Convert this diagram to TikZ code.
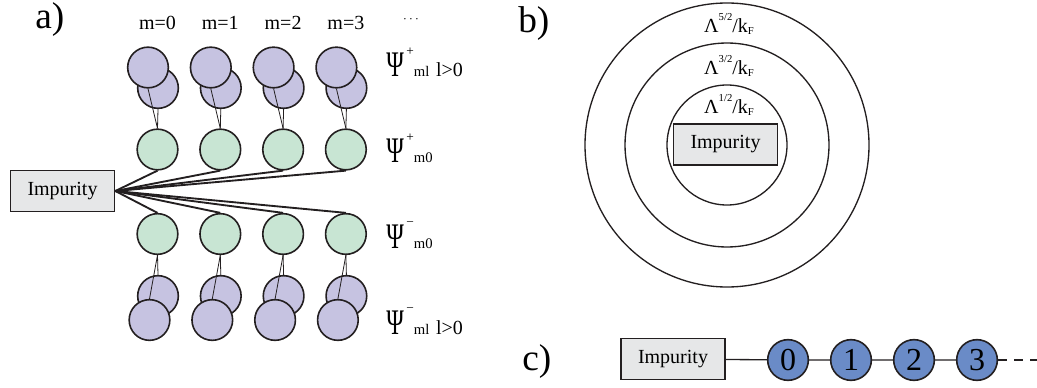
\documentclass[tikz,border=0pt]{standalone}
\usepackage{fontspec}
\setmainfont{Liberation Serif}
\usepackage{graphicx}

\newcommand{\txtsize}{\fontsize{15}{18}\selectfont}
\newcommand{\lblsize}{\fontsize{28}{30}\selectfont}
% Psi label: sign on top, index at the foot
\newcommand{\psilab}[2]{%
  \scalebox{0.66}[1]{\fontsize{27}{27}\selectfont Ψ}\kern2pt%
  \raisebox{16pt}{\fontsize{10}{10}\selectfont #1}%
  {\fontsize{11}{11}\selectfont #2}}
% Lambda label for the shells
\newcommand{\lamlab}[1]{%
  Λ\raisebox{9.5pt}{\fontsize{8}{8}\selectfont #1}/k%
  \raisebox{-1pt}{\fontsize{8}{8}\selectfont F}}

\begin{document}
\begin{tikzpicture}[x=0.75pt,y=-0.75pt]
    % Define colours and styles
    \definecolor{lilac}{RGB}{198,195,225}
    \definecolor{mint}{RGB}{200,229,211}
    \definecolor{boxgray}{RGB}{230,231,232}
    \definecolor{chainblue}{RGB}{106,139,199}
    \definecolor{linecol}{RGB}{35,31,32}
    \tikzset{
        impbox/.style={draw=linecol, line width=1.2pt, fill=boxgray, inner sep=0pt,
            minimum width=78pt, minimum height=31pt, font=\txtsize},
        purplenode/.style={circle, draw=linecol, line width=1.2pt, fill=lilac, inner sep=0pt, minimum size=30.5pt},
        greennode/.style={circle, draw=linecol, line width=1.2pt, fill=mint, inner sep=0pt, minimum size=30.5pt},
        bluenode/.style={circle, draw=linecol, line width=1.2pt, fill=chainblue, inner sep=0pt, minimum size=30.5pt,
            font=\fontsize{24}{24}\selectfont},
        thinedge/.style={draw=linecol, line width=0.6pt},
        hopedge/.style={draw=linecol, line width=1.4pt},
        chainedge/.style={draw=linecol, line width=1pt},
        shell/.style={draw=linecol, line width=1pt},
        txt/.style={font=\txtsize, inner sep=0pt}
    }
    \useasboundingbox (0,0) rectangle (1037,388);

    % ==========================================
    % PANEL a) : STAR OF ORBITALS
    % ==========================================
    \node[font=\lblsize, anchor=base west, inner sep=0pt] (la) at (35,29) {a)};
    \node[impbox] (impa) at (62.5,191) {Impurity};

    % 1. Columns of circles, one per m
    \foreach \i in {0,...,3} {
        \pgfmathsetmacro{\cx}{157.5+62.8*\i}
        \node[purplenode] (ub\i) at (\cx+0.5, 88) {};
        \node[purplenode] (uf\i) at (\cx-9.5, 67.5) {};
        \node[greennode] (gu\i) at (\cx, 149.5) {};
        \node[greennode] (gd\i) at (\cx, 234) {};
        \node[purplenode] (db\i) at (\cx+0.5, 296) {};
        \node[purplenode] (df\i) at (\cx-8, 320) {};
        \node[txt, anchor=base] (m\i) at (\cx, 30) {m=\i};
    }
    \node[inner sep=0pt, font=\fontsize{10}{10}\selectfont] (mdots) at (411,20) {$\cdots$};

    % 2. Links: impurity to m0 shells, m0 to ml shells
    \foreach \i in {0,...,3} {
        \draw[thinedge] (gu\i.north) -- (uf\i.south);
        \draw[thinedge] (gu\i.north) -- (ub\i.south);
        \draw[thinedge] (gd\i.south) -- (df\i.north);
        \draw[thinedge] (gd\i.south) -- (db\i.north);
        \draw[hopedge] (impa.east) -- (gu\i.south);
        \draw[hopedge] (impa.east) -- (gd\i.north);
    }

    % 3. Row labels
    \node[txt, anchor=base west] (psiup) at (386,77) {\psilab{+}{ml}\hspace{5pt}l>0};
    \node[txt, anchor=base west] (psiuz) at (386,163) {\psilab{+}{m0}};
    \node[txt, anchor=base west] (psidz) at (386,248) {\psilab{−}{m0}};
    \node[txt, anchor=base west] (psidn) at (386,334) {\psilab{−}{ml}\hspace{5pt}l>0};

    % ==========================================
    % PANEL b) : SHELLS ROUND THE IMPURITY
    % ==========================================
    \node[font=\lblsize, anchor=base west, inner sep=0pt] (lb) at (518,33) {b)};
    \draw[shell] (727,145) circle[radius=106.5pt];
    \draw[shell] (727,145) circle[radius=76.5pt];
    \draw[shell] (727,145) circle[radius=45pt];
    \node[impbox] (impb) at (725.5,144.5) {Impurity};
    \node[txt, anchor=base] (lam1) at (729,114) {\lamlab{1/2}};
    \node[txt, anchor=base] (lam3) at (729,75) {\lamlab{3/2}};
    \node[txt, anchor=base] (lam5) at (729,33) {\lamlab{5/2}};

    % ==========================================
    % PANEL c) : WILSON CHAIN
    % ==========================================
    \node[font=\lblsize, anchor=base west, inner sep=0pt] (lc) at (522,370) {c)};
    \node[impbox] (impc) at (673,359) {Impurity};
    \foreach \i in {0,...,3} {
        \node[bluenode] (c\i) at (788+63*\i, 360) {\i};
    }
    \draw[chainedge] (impc) -- (c0) -- (c1) -- (c2) -- (c3);
    \coordinate (cend) at (1037,360);
    \draw[chainedge, dash pattern=on 7pt off 5pt] (c3) -- (cend);

\end{tikzpicture}
\end{document}
